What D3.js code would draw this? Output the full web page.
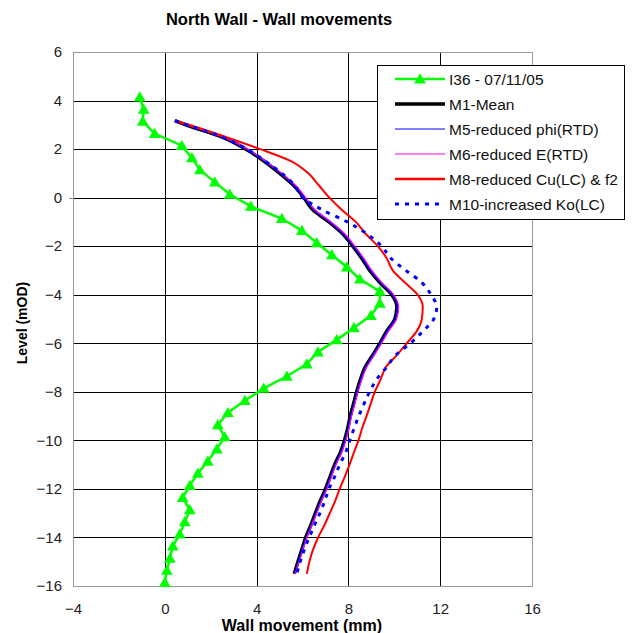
<!DOCTYPE html>
<html><head><meta charset="utf-8">
<script src="https://cdn.jsdelivr.net/npm/d3@7"></script>
<style>body{margin:0;background:#fff}svg{display:block}text{font-family:"Liberation Sans",Arial,sans-serif}</style>
</head><body>
<script>
const title = "North Wall - Wall movements";
const xTicks = [-4, 0, 4, 8, 12, 16];
const yTicks = [6, 4, 2, 0, -2, -4, -6, -8, -10, -12, -14, -16];

// Inclinometer I36 (measured)
const i36Level = [4.14,3.64,3.14,2.64,2.14,1.64,1.14,0.64,0.14,-0.36,-0.86,-1.36,-1.86,-2.36,-2.86,-3.36,-3.86,-4.36,-4.86,-5.36,-5.86,-6.36,-6.86,-7.36,-7.86,-8.36,-8.86,-9.36,-9.86,-10.36,-10.86,-11.36,-11.86,-12.36,-12.86,-13.36,-13.86,-14.36,-14.86,-15.36,-15.86];
const i36Move = [-1.09,-0.92,-0.96,-0.44,0.74,1.18,1.53,2.18,2.83,3.75,5.10,5.97,6.62,7.28,7.93,8.50,9.37,9.37,8.98,8.24,7.49,6.67,6.19,5.32,4.31,3.49,2.75,2.31,2.61,2.27,1.87,1.44,1.09,0.78,1.09,0.87,0.65,0.35,0.22,0.09,0.00];

// Model results
const modelLevel = [3.17,3.0,2.5,2.0,1.5,1.0,0.5,0.0,-0.5,-1.0,-1.5,-2.0,-2.5,-3.0,-3.5,-4.0,-4.5,-5.0,-5.5,-6.0,-6.5,-7.0,-7.5,-8.0,-8.5,-9.0,-9.5,-10.0,-10.5,-11.0,-11.5,-12.0,-12.5,-13.0,-13.5,-14.0,-14.5,-15.0,-15.5];
const m1Move = [0.44,0.92,2.48,3.52,4.33,5.01,5.62,6.06,6.45,7.15,7.76,8.19,8.58,8.93,9.37,9.89,10.11,10.02,9.67,9.37,9.05,8.72,8.52,8.36,8.22,8.08,7.97,7.83,7.65,7.40,7.20,7.00,6.77,6.56,6.36,6.14,5.97,5.80,5.64];
const m5Move = [0.44,0.94,2.50,3.55,4.35,5.03,5.63,6.08,6.48,7.17,7.78,8.21,8.60,8.95,9.40,9.91,10.12,10.03,9.68,9.38,9.06,8.74,8.54,8.38,8.24,8.10,7.99,7.85,7.67,7.42,7.22,7.02,6.79,6.58,6.38,6.16,5.99,5.82,5.66];
const m6Move = [0.44,0.97,2.55,3.60,4.40,5.09,5.70,6.14,6.54,7.24,7.85,8.28,8.67,9.02,9.46,9.97,10.19,10.10,9.75,9.44,9.12,8.79,8.58,8.42,8.28,8.14,8.03,7.89,7.71,7.46,7.26,7.06,6.83,6.62,6.41,6.19,6.02,5.85,5.68];
const m8Move = [0.44,1.05,2.65,4.15,5.50,6.25,6.72,7.17,7.71,8.32,8.76,9.28,9.67,9.93,10.46,11.02,11.24,11.20,10.98,10.54,10.10,9.62,9.40,9.15,8.97,8.79,8.60,8.44,8.24,8.05,7.84,7.62,7.42,7.19,6.95,6.68,6.46,6.30,6.19];
const m10Move = [0.44,0.96,2.48,3.58,4.38,5.10,5.66,6.01,6.85,7.95,8.82,9.45,9.85,10.50,11.20,11.60,11.85,11.72,11.25,10.70,10.05,9.65,9.22,8.92,8.68,8.45,8.25,8.06,7.88,7.62,7.40,7.15,6.97,6.76,6.52,6.29,6.08,5.90,5.75];

const seriesNames = ["I36 - 07/11/05","M1-Mean","M5-reduced phi(RTD)","M6-reduced E(RTD)","M8-reduced Cu(LC) & f2","M10-increased Ko(LC)"];

const W = 632, H = 633;
const L = 73, R = 532, T = 52, B = 586;
const svg = d3.select("body").append("svg").attr("width", W).attr("height", H);
const x = d3.scaleLinear().domain([-4, 16]).range([L, R]);
const y = d3.scaleLinear().domain([-16, 6]).range([B, T]);
const px = v => Math.round(v) + 0.5;

// gridlines
const g = svg.append("g");
g.selectAll(".vg").data(xTicks.filter(d => d > -4 && d < 16)).join("line")
  .attr("x1", d => px(x(d))).attr("x2", d => px(x(d))).attr("y1", T).attr("y2", B)
  .attr("stroke", "#000").attr("stroke-width", 1);
g.selectAll(".hg").data(yTicks.filter(d => d > -16 && d < 6)).join("line")
  .attr("y1", d => px(y(d))).attr("y2", d => px(y(d))).attr("x1", L).attr("x2", R)
  .attr("stroke", "#000").attr("stroke-width", 1);
// frame
svg.append("rect").attr("x", L + 0.5).attr("y", T + 0.5).attr("width", R - L).attr("height", B - T)
  .attr("fill", "none").attr("stroke", "#999").attr("stroke-width", 1);
svg.append("line").attr("x1", L - 4).attr("x2", L).attr("y1", px(y(0))).attr("y2", px(y(0))).attr("stroke", "#888");

// axes labels
const xa = svg.append("g").attr("transform", `translate(0,${B})`)
  .call(d3.axisBottom(x).tickValues(xTicks).tickSize(0).tickPadding(17));
xa.select(".domain").remove();
xa.selectAll("text").attr("font-size", 15).attr("fill", "#222").style("font-family", '"Liberation Sans",Arial,sans-serif');
const ya = svg.append("g").attr("transform", `translate(${L},0)`)
  .call(d3.axisLeft(y).tickValues(yTicks).tickSize(0).tickPadding(11));
ya.select(".domain").remove();
ya.selectAll("text").attr("font-size", 15).attr("fill", "#222").style("font-family", '"Liberation Sans",Arial,sans-serif');

svg.append("text").attr("x", 279).attr("y", 25).attr("text-anchor", "middle")
  .attr("font-size", 16.5).attr("font-weight", "bold").text(title);
svg.append("text").attr("transform", "translate(27,323) rotate(-90)").attr("text-anchor", "middle")
  .attr("font-size", 14).attr("font-weight", "bold").text("Level (mOD)");
svg.append("text").attr("x", 302).attr("y", 631).attr("text-anchor", "middle")
  .attr("font-size", 16).attr("font-weight", "bold").text("Wall movement (mm)");

// lines
const line = d3.line().x(d => x(d[0])).y(d => y(d[1]));
const smooth = d3.line().curve(d3.curveMonotoneY).x(d => x(d[0])).y(d => y(d[1]));
const zipS = (xs, ys) => xs.map((v, i) => [v, ys[i]]);
const plot = svg.append("g");
const tri = d3.symbol().type(d3.symbolTriangle).size(60);

const green = zipS(i36Move, i36Level);
plot.append("path").attr("d", line(green)).attr("fill", "none").attr("stroke", "#00ff00").attr("stroke-width", 2.5);
plot.selectAll(".mk").data(green).join("path").attr("d", tri)
  .attr("transform", d => `translate(${x(d[0])},${y(d[1]) + 1})`).attr("fill", "#00ff00");

const models = [
  {v: m1Move, c: "#000000", w: 3.5, dash: null},
  {v: m5Move, c: "#0000ff", w: 1.2, dash: null},
  {v: m6Move, c: "#ff00ff", w: 1.2, dash: null},
  {v: m8Move, c: "#ff0000", w: 2, dash: null},
  {v: m10Move, c: "#0000ff", w: 3, dash: "4,6"}
];
models.forEach(m => {
  plot.append("path").attr("d", smooth(zipS(m.v, modelLevel))).attr("fill", "none")
    .attr("stroke", m.c).attr("stroke-width", m.w).attr("stroke-dasharray", m.dash)
    .attr("stroke-linejoin", "round");
});

// legend
const lg = svg.append("g");
lg.append("rect").attr("x", 377.5).attr("y", 65.5).attr("width", 247).attr("height", 154)
  .attr("fill", "#fff").attr("stroke", "#000").attr("stroke-width", 1);
const legStyles = [
  {c: "#00ff00", w: 2.5, dash: null, mk: true},
  {c: "#000", w: 3.5, dash: null},
  {c: "#0000ff", w: 1.2, dash: null},
  {c: "#ff00ff", w: 1.2, dash: null},
  {c: "#ff0000", w: 2.5, dash: null},
  {c: "#0000ff", w: 3, dash: "4,6"}
];
seriesNames.forEach((n, i) => {
  const yy = 79 + i * 25;
  lg.append("line").attr("x1", 395).attr("x2", 445).attr("y1", yy).attr("y2", yy)
    .attr("stroke", legStyles[i].c).attr("stroke-width", legStyles[i].w).attr("stroke-dasharray", legStyles[i].dash);
  if (legStyles[i].mk) lg.append("path").attr("d", tri).attr("transform", `translate(420,${yy + 1})`).attr("fill", "#00ff00");
  lg.append("text").attr("x", 449).attr("y", yy + 5.5).attr("font-size", 15.5).attr("fill", "#111").text(n);
});
</script>
</body></html>
